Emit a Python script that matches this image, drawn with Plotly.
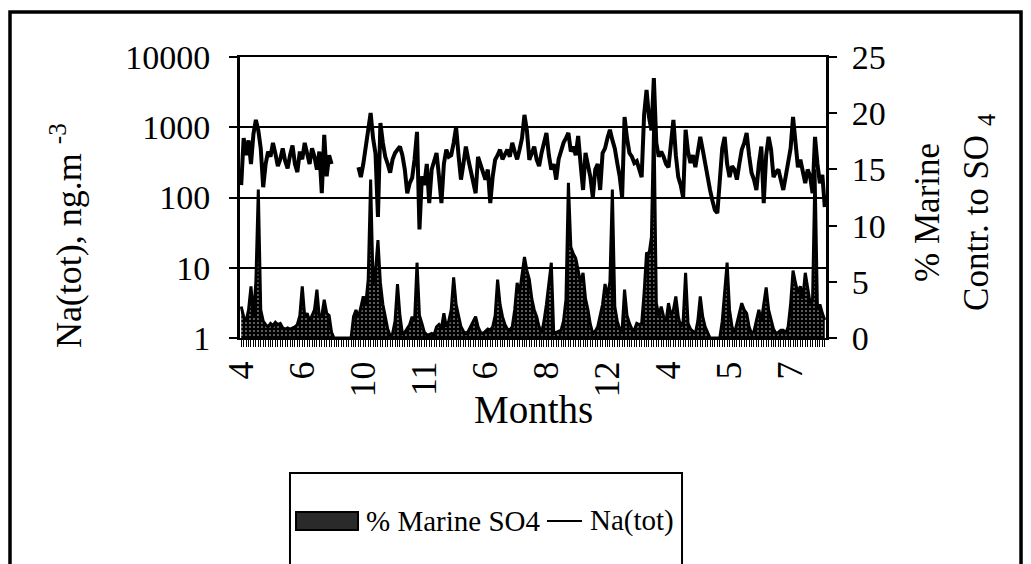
import plotly.graph_objects as go

# Sample-by-sample series (one value per sampling day)
na_tot = [
    150, 700, 400, 650, 300, 800, 1270, 900, 500, 140,
    300, 450, 380, 600, 420, 280, 350, 500, 330, 260,
    400, 550, 300, 230, 450, 350, 600, 420, 300, 500,
    380, 250, 450, 115, 780, 200, 400, 300,
    None, None, None, None, None, None, None, None, None, None,
    270, 195, 300, 530, 800, 1600, 700, 420, 53, 1150,
    600, 380, 300, 225, 350, 430, 480, 530, 400, 250,
    115, 160, 190, 350, 860, 35, 200, 150, 300, 83,
    250, 345, 430, 200, 83, 300, 480, 380, 400, 600, 1000,
    400, 180, 300, 530, 350, 250, 160, 115, 380, 300, 225,
    180, 250, 83, 200, 345, 400, 480, 350, 420, 480,
    380, 600, 450, 350, 480, 700, 1500, 900, 345, 450,
    530, 345, 280, 430, 600, 830, 400, 250, 300, 180,
    350, 480, 600, 700, 830, 450, 530, 400, 750, 300,
    128, 430, 300, 195, 100, 250, 300, 128, 430, 500,
    700, 920, 660, 500, 310, 200, 100, 1400, 700, 430,
    380, 310, 330, 250, 195, 1500, 3400, 1400, 900, 5000,
    600, 380, 450, 380, 300, 270, 700, 1270, 400, 195,
    150, 100, 920, 450, 310, 400, 270, 500, 730, 480,
    300, 195, 128, 90, 66, 60, 195, 500, 730, 300,
    195, 280, 250, 180, 300, 480, 600, 830, 400, 225,
    180, 128, 300, 530, 83, 400, 730, 480, 195, 230,
    250, 180, 128, 200, 300, 500, 1400, 600, 270, 345,
    250, 160, 250, 200, 115, 730, 300, 160, 210, 73,
]

marine_so4 = [
    2.8, 1.9, 1.5, 2.5, 4.6, 1.9, 5.0, 13.2, 2.5, 1.5,
    1.2, 1.0, 1.3, 1.1, 1.4, 1.2, 1.3, 0.9, 0.8, 0.9,
    0.8, 0.9, 1.0, 1.2, 2.0, 4.6, 1.9, 2.2, 1.5, 2.0,
    2.5, 4.3, 1.8, 2.0, 3.4, 2.2, 2.0, 0.5,
    0, 0, 0, 0, 0, 0, 0, 0,
    1.9, 2.5, 1.8, 2.8,
    3.7, 3.0, 5.2, 14.1, 4.8, 6.0, 8.7, 4.9, 3.0, 1.9,
    0.8, 0.2, 0.4, 1.5, 4.8, 2.0, 0.4, 0.5, 0.8, 1.2,
    1.9, 1.5, 6.7, 2.0, 1.3, 0.5, 0.3, 0.3, 0.4, 0.3,
    1.0, 1.2, 0.9, 2.2, 1.0, 1.5, 2.5, 5.4, 3.0, 1.9,
    1.0, 0.6, 0.4, 0.6, 1.0, 1.5, 1.9, 1.0, 0.5, 0.4,
    0.6, 0.8, 0.7, 1.0, 2.0, 5.2, 3.0, 1.9, 1.2, 0.8,
    0.7, 1.0, 2.5, 4.9, 4.0, 5.5, 7.2, 6.0, 5.2, 3.5,
    2.5, 1.9, 1.0, 0.4, 1.5, 3.0, 5.0, 6.7, 0.4, 0.5,
    0.6, 0.7, 1.5, 3.4, 13.8, 8.1, 7.5, 7.1, 6.0, 4.9,
    5.8, 3.5, 2.5, 1.2, 0.4, 0.6, 1.0, 2.0, 3.0, 4.8,
    3.7, 5.0, 13.2, 2.8, 1.5, 0.8, 0.7, 4.3, 2.0, 1.3,
    0.8, 0.7, 1.3, 1.2, 1.3, 4.0, 7.6, 7.4, 9.0, 20.0,
    3.1, 2.0, 2.8, 1.9, 1.5, 3.1, 2.0, 2.5, 3.7, 1.9,
    1.0, 1.5, 5.8, 1.3, 0.8, 0.6, 0.4, 1.5, 3.7, 1.9,
    1.0, 0.5, 0, 0, 0, 0, 0, 1.5, 4.0, 6.7,
    2.5, 1.0, 0.4, 1.3, 2.0, 3.1, 2.5, 2.2, 1.0, 0.4,
    0.6, 1.5, 2.5, 1.5, 3.0, 4.5, 2.5, 1.6, 0.8, 0.4,
    0.5, 0.7, 0.7, 0.4, 1.0, 3.0, 6.0, 4.9, 4.0, 4.6,
    3.5, 5.8, 4.3, 3.1, 3.5, 15.0, 2.5, 3.0, 2.2, 1.6,
]

month_labels = ["4", "6", "10", "11", "6", "8", "12", "4", "5", "7"]
label_step = 25
na_ticks = [1, 10, 100, 1000, 10000]
pct_ticks = [0, 5, 10, 15, 20, 25]
series_names = ["% Marine SO4", "Na(tot)"]

samples = list(range(len(na_tot)))
month_pos = [i * label_step for i in range(len(month_labels))]

FONT = "Liberation Serif"


def font(size):
    return dict(family=FONT, size=size, color="black")


fig = go.Figure()

# % marine contribution: stippled black area on the right-hand axis
fig.add_trace(go.Scatter(
    x=samples, y=marine_so4, name=series_names[0], yaxis="y",
    mode="lines", fill="tozeroy", showlegend=False,
    line=dict(color="black", width=3),
    fillcolor="black",
    fillpattern=dict(shape=".", bgcolor="black", fgcolor="white",
                     size=4, solidity=0.18),
))

# Total sodium: heavy black line on the logarithmic left-hand axis
fig.add_trace(go.Scatter(
    x=samples, y=na_tot, name=series_names[1], yaxis="y2",
    mode="lines", connectgaps=False, showlegend=False,
    line=dict(color="black", width=4),
))

fig.update_layout(
    width=1031, height=564,
    margin=dict(l=240, r=205, t=57, b=226),
    paper_bgcolor="white", plot_bgcolor="white",
    font=font(33),
    xaxis=dict(
        range=[-0.5, len(samples) - 0.5],
        tickmode="array", tickvals=month_pos, ticktext=month_labels,
        tickangle=-90, ticks="outside", ticklen=7, tickwidth=1,
        tickcolor="black", tickfont=font(36),
        minor=dict(tickmode="linear", tick0=0, dtick=1, ticks="outside",
                   ticklen=7, tickwidth=1, tickcolor="black", showgrid=False),
        showline=True, linecolor="black", linewidth=2, mirror=True,
        showgrid=False, zeroline=False, automargin=False,
    ),
    yaxis=dict(
        side="right", range=[0, 25], tickmode="array", tickvals=pct_ticks,
        ticks="outside", ticklen=8, tickwidth=1.5, tickcolor="black",
        tickfont=font(34), ticklabelstandoff=8,
        showline=True, linecolor="black", linewidth=3,
        showgrid=False, zeroline=False, automargin=False,
    ),
    yaxis2=dict(
        overlaying="y", side="left", type="log", range=[0, 4],
        tickmode="array", tickvals=na_ticks,
        ticktext=[str(v) for v in na_ticks],
        ticks="outside", ticklen=8, tickwidth=1.5, tickcolor="black",
        tickfont=font(34), ticklabelstandoff=12,
        showline=True, linecolor="black", linewidth=3,
        showgrid=True, gridcolor="black", gridwidth=1.5,
        zeroline=False, automargin=False,
    ),
)

# Axis titles
fig.add_annotation(
    text="Na(tot), ng.m <sup>-3</sup>", xref="paper", yref="paper",
    x=-0.297, y=0.366, textangle=-90, showarrow=False,
    xanchor="center", yanchor="middle", font=font(36),
)
fig.add_annotation(
    text="% Marine", xref="paper", yref="paper",
    x=1.172, y=0.448, textangle=-90, showarrow=False,
    xanchor="center", yanchor="middle", font=font(35),
)
fig.add_annotation(
    text="Contr. to SO <sub>4</sub>", xref="paper", yref="paper",
    x=1.259, y=0.448, textangle=-90, showarrow=False,
    xanchor="center", yanchor="middle", font=font(35),
)
fig.add_annotation(
    text="Months", xref="paper", yref="paper",
    x=0.5, y=-0.256, showarrow=False,
    xanchor="center", yanchor="middle", font=font(39),
)

# Outer frame of the figure
fig.add_shape(type="rect", xref="paper", yref="paper",
              x0=-0.3925, x1=1.3328, y0=-0.95, y1=1.16,
              line=dict(color="black", width=3.5), layer="above")

# Legend: framed box with a stippled swatch and a line key
fig.add_shape(type="rect", xref="paper", yref="paper",
              x0=0.0853, x1=0.7543, y0=-0.95, y1=-0.4804,
              line=dict(color="black", width=2), layer="above")
fig.add_shape(type="rect", xref="paper", yref="paper",
              x0=0.0956, x1=0.2014, y0=-0.6833, y1=-0.6192,
              line=dict(color="black", width=2), fillcolor="#2a2a2a")
fig.add_annotation(
    text=series_names[0], xref="paper", yref="paper",
    x=0.2116, y=-0.6512, showarrow=False,
    xanchor="left", yanchor="middle", font=font(29),
)
fig.add_shape(type="line", xref="paper", yref="paper",
              x0=0.5239, x1=0.5836, y0=-0.6512, y1=-0.6512,
              line=dict(color="black", width=2))
fig.add_annotation(
    text=series_names[1], xref="paper", yref="paper",
    x=0.5939, y=-0.6512, showarrow=False,
    xanchor="left", yanchor="middle", font=font(29),
)

fig.write_html("out.html")
